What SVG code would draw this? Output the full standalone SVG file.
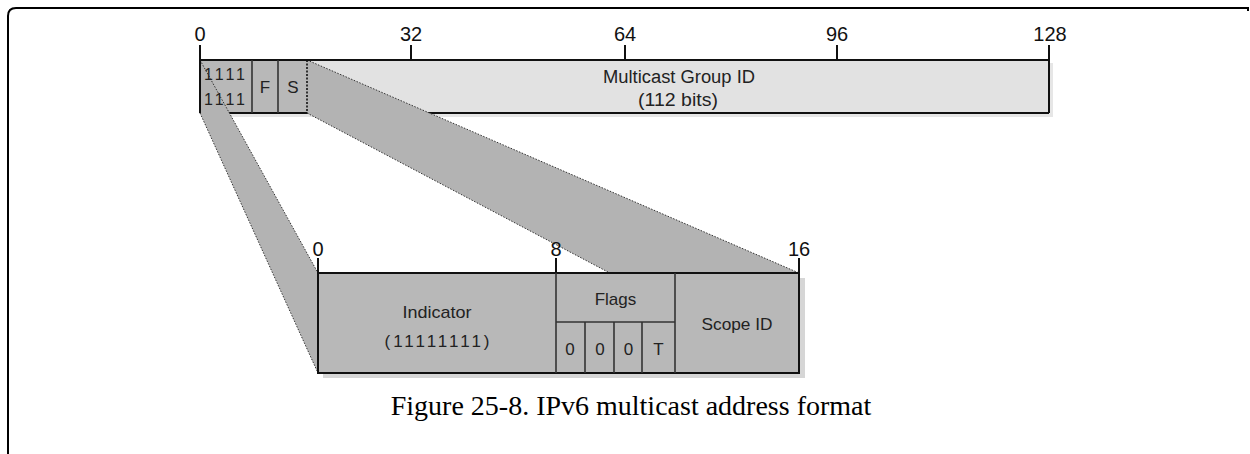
<svg xmlns="http://www.w3.org/2000/svg" width="1250" height="454" viewBox="0 0 1250 454">
<style>
.lbl{font-family:"Liberation Sans",Arial,sans-serif;fill:#222;text-anchor:middle}
.num{font-family:"Liberation Sans",Arial,sans-serif;fill:#111;text-anchor:middle;font-size:20px}
.edge{stroke:#111;stroke-width:2;fill:none}
.div{stroke:#333;stroke-width:1.6;fill:none}
.tick{stroke:#111;stroke-width:2}
.band{fill:#b3b3b3;stroke:none}
.bandedge{stroke:#333;stroke-width:1;stroke-dasharray:1.5 1.5;fill:none}
.cap{font-family:"Liberation Serif","Times New Roman",serif;font-size:28px;fill:#000;text-anchor:middle}
</style>
<rect width="1250" height="454" fill="#fff"/>
<path d="M8 454 V16 Q8 8 16 8 H1248 V11" fill="none" stroke="#000" stroke-width="2"/>

<g id="top-bar">
  <rect x="203" y="63" width="850" height="54" fill="#e6e6e6"/>
  <rect x="307" y="60" width="742" height="53" fill="#e2e2e2"/>
  <rect x="200" y="60" width="107" height="53" fill="#b8b8b8"/>
  <line class="edge" x1="200" y1="113" x2="1049" y2="113"/>
</g>

<g id="connectors">
  <polygon class="band" points="200,60 318,273 318,373 200,113"/>
  <polygon class="band" points="307,60 799,273 799,373 307,113"/>
  <line class="bandedge" x1="200" y1="60" x2="318" y2="273"/>
  <line class="bandedge" x1="200" y1="113" x2="318" y2="373"/>
  <line class="bandedge" x1="307" y1="60" x2="799" y2="273"/>
  <line class="bandedge" x1="307" y1="113" x2="799" y2="373"/>
</g>

<g id="top-bar-fields">
  <line class="edge" x1="200" y1="60" x2="1049" y2="60"/>
  <line class="edge" x1="200" y1="45" x2="200" y2="113"/>
  <line class="edge" x1="1049" y1="45" x2="1049" y2="113"/>
  <line class="div" x1="252" y1="60" x2="252" y2="113"/>
  <line class="div" x1="278" y1="60" x2="278" y2="113"/>
  <line x1="307" y1="60" x2="307" y2="113" stroke="#111" stroke-width="1.6" stroke-dasharray="2 1.5"/>
  <line class="tick" x1="411" y1="45" x2="411" y2="60"/>
  <line class="tick" x1="625" y1="45" x2="625" y2="60"/>
  <line class="tick" x1="837" y1="45" x2="837" y2="60"/>
  <text class="num" x="200" y="41">0</text>
  <text class="num" x="411" y="41">32</text>
  <text class="num" x="625" y="41">64</text>
  <text class="num" x="837" y="41">96</text>
  <text class="num" x="1050" y="41">128</text>
  <text class="lbl" x="226" y="80" font-size="16" letter-spacing="3">1111</text>
  <text class="lbl" x="226" y="105" font-size="16" letter-spacing="3">1111</text>
  <text class="lbl" x="265" y="93" font-size="17">F</text>
  <text class="lbl" x="293" y="93" font-size="17">S</text>
  <text class="lbl" x="679" y="83" font-size="18" textLength="152" lengthAdjust="spacingAndGlyphs">Multicast Group ID</text>
  <text class="lbl" x="678" y="106" font-size="18" textLength="80" lengthAdjust="spacingAndGlyphs">(112 bits)</text>
</g>

<g id="lower-box">
  <rect x="323" y="278" width="482" height="100" fill="#d6d6d6"/>
  <rect x="318" y="273" width="481" height="100" fill="#b8b8b8"/>
  <rect x="318" y="273" width="481" height="100" class="edge"/>
  <line class="tick" x1="318" y1="258" x2="318" y2="273"/>
  <line class="tick" x1="556" y1="258" x2="556" y2="273"/>
  <line class="tick" x1="799" y1="258" x2="799" y2="273"/>
  <text class="num" x="318" y="256" font-size="19">0</text>
  <text class="num" x="556" y="256" font-size="19">8</text>
  <text class="num" x="799" y="256" font-size="19">16</text>
  <line class="div" x1="556" y1="273" x2="556" y2="373"/>
  <line class="div" x1="675" y1="273" x2="675" y2="373"/>
  <line class="div" x1="556" y1="322" x2="675" y2="322"/>
  <line class="div" x1="585" y1="322" x2="585" y2="373"/>
  <line class="div" x1="614" y1="322" x2="614" y2="373"/>
  <line class="div" x1="642" y1="322" x2="642" y2="373"/>
  <text class="lbl" x="437" y="318" font-size="17" textLength="69" lengthAdjust="spacingAndGlyphs">Indicator</text>
  <text class="lbl" x="437" y="347" font-size="17" textLength="105" lengthAdjust="spacing">(11111111)</text>
  <text class="lbl" x="615.5" y="305" font-size="17">Flags</text>
  <text class="lbl" x="737" y="330" font-size="17" textLength="71" lengthAdjust="spacingAndGlyphs">Scope ID</text>
  <text class="lbl" x="570" y="355" font-size="17">0</text>
  <text class="lbl" x="600" y="355" font-size="17">0</text>
  <text class="lbl" x="628.5" y="355" font-size="17">0</text>
  <text class="lbl" x="658.5" y="355" font-size="17">T</text>
</g>

<text class="cap" x="631" y="415">Figure 25-8. IPv6 multicast address format</text>
</svg>
